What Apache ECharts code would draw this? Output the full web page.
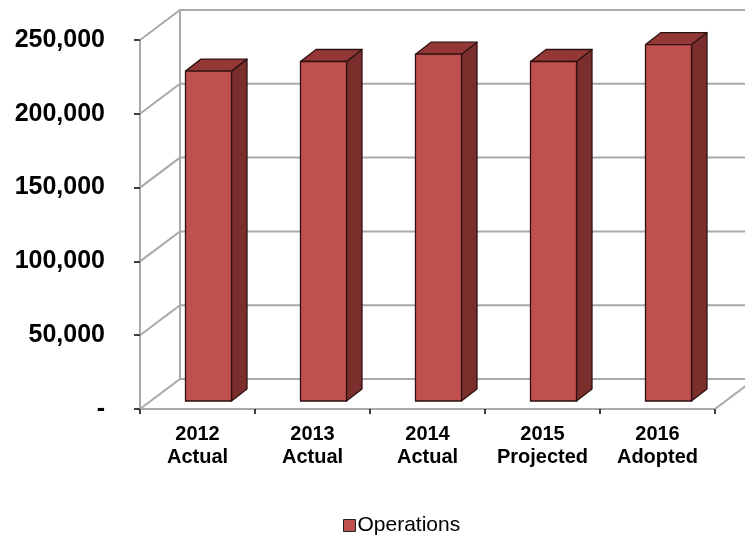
<!DOCTYPE html>
<html>
<head>
<meta charset="utf-8">
<script src="https://cdn.jsdelivr.net/npm/echarts@6/dist/echarts.min.js"></script>
<style>
  html, body { margin: 0; padding: 0; background: #fff; }
  #chart { width: 745px; height: 542px; }
</style>
</head>
<body>
<div id="chart"></div>
<script>
// Operations budget by fiscal year
const categories = ['2012\nActual', '2013\nActual', '2014\nActual', '2015\nProjected', '2016\nAdopted'];
const operations = [223500, 230000, 235000, 230000, 241500];
const yTicks = [0, 50000, 100000, 150000, 200000, 250000];
const yTickLabels = ['-', '50,000', '100,000', '150,000', '200,000', '250,000'];
const seriesName = 'Operations';

// Oblique depth of the box (back wall offset) and of the bars within it
const WALL_DX = 40, WALL_DY = -30;
const BAR_FX = 11, BAR_FY = -8;      // front face of bars, relative to front plane
const BAR_SX = 15.5, BAR_SY = -12;   // bar depth
const BAR_FRACTION = 0.4;

const FONT = '"Liberation Sans", Arial, sans-serif';
const GRID_COLOR = '#a9a9a9';

const chart = echarts.init(document.getElementById('chart'), null, { renderer: 'canvas' });

function renderWalls(params, api) {
  const cs = params.coordSys;
  const x0 = cs.x, x1 = cs.x + cs.width;
  const v = api.value(1);
  const y = api.coord([0, v])[1];
  const style = { stroke: GRID_COLOR, lineWidth: 2, fill: null };
  const children = [{
    type: 'polyline',
    shape: { points: [[x0, y], [x0 + WALL_DX, y + WALL_DY], [x1 + WALL_DX, y + WALL_DY]] },
    style: style
  }];
  if (v === yTicks[0]) {
    const yTop = api.coord([0, yTicks[yTicks.length - 1]])[1];
    children.push({
      type: 'line',
      shape: { x1: x1, y1: y, x2: x1 + WALL_DX, y2: y + WALL_DY },
      style: style
    });
    children.push({
      type: 'line',
      shape: { x1: x0 + WALL_DX, y1: y + WALL_DY, x2: x0 + WALL_DX, y2: yTop + WALL_DY },
      style: style
    });
  }
  return { type: 'group', children: children };
}

function renderBar(params, api) {
  const idx = api.value(0);
  const val = api.value(1);
  const base = api.coord([idx, 0]);
  const top = api.coord([idx, val]);
  const bw = api.size([1, 0])[0] * BAR_FRACTION;
  const xl = base[0] - bw / 2 + BAR_FX;
  const xr = xl + bw;
  const yt = top[1] + BAR_FY;
  const yb = base[1] + BAR_FY;
  const edge = '#2e1211';
  return {
    type: 'group',
    children: [
      {
        type: 'polygon',
        shape: { points: [[xr, yt], [xr + BAR_SX, yt + BAR_SY], [xr + BAR_SX, yb + BAR_SY], [xr, yb]] },
        style: { fill: '#7b2f2d', stroke: edge, lineWidth: 1.3, lineJoin: 'round' }
      },
      {
        type: 'polygon',
        shape: { points: [[xl, yt], [xl + BAR_SX, yt + BAR_SY], [xr + BAR_SX, yt + BAR_SY], [xr, yt]] },
        style: { fill: '#933836', stroke: edge, lineWidth: 1.3, lineJoin: 'round' }
      },
      {
        type: 'rect',
        shape: { x: xl, y: yt, width: bw, height: yb - yt },
        style: { fill: '#c0504d', stroke: edge, lineWidth: 1.3 }
      }
    ]
  };
}

const option = {
  backgroundColor: '#ffffff',
  animation: false,
  grid: { left: 140, right: 30, top: 40, bottom: 133, containLabel: false },
  legend: {
    data: [seriesName],
    left: 338,
    top: 510,
    itemWidth: 12,
    itemHeight: 12,
    icon: 'rect',
    itemStyle: { color: '#c0504d', borderColor: '#222', borderWidth: 1 },
    textStyle: { fontFamily: FONT, fontSize: 21, color: '#000', padding: [0, 0, 0, -3] }
  },
  xAxis: {
    type: 'category',
    data: categories,
    boundaryGap: true,
    axisLine: { show: true, lineStyle: { color: GRID_COLOR, width: 2 } },
    axisTick: { show: true, length: 5, lineStyle: { color: '#000', width: 1.5 } },
    axisLabel: {
      fontFamily: FONT, fontSize: 20, fontWeight: 'bold', color: '#000',
      lineHeight: 23, margin: 14, interval: 0
    },
    splitLine: { show: false }
  },
  yAxis: {
    type: 'value',
    min: yTicks[0],
    max: yTicks[yTicks.length - 1],
    interval: yTicks[1] - yTicks[0],
    axisLine: { show: true, lineStyle: { color: GRID_COLOR, width: 2 } },
    axisTick: { show: true, length: 6, lineStyle: { color: '#000', width: 1.5 } },
    splitLine: { show: false },
    axisLabel: {
      fontFamily: FONT, fontSize: 25, fontWeight: 'bold', color: '#000', margin: 35,
      formatter: function (value) {
        const i = yTicks.indexOf(value);
        return i >= 0 ? yTickLabels[i] : '';
      }
    }
  },
  series: [
    {
      type: 'custom',
      name: 'walls',
      renderItem: renderWalls,
      data: yTicks.map(function (v) { return [0, v]; }),
      encode: { x: 0, y: 1 },
      z: 1,
      silent: true,
      clip: false
    },
    {
      type: 'custom',
      name: seriesName,
      renderItem: renderBar,
      itemStyle: { color: '#c0504d' },
      data: operations.map(function (v, i) { return [i, v]; }),
      encode: { x: 0, y: 1 },
      z: 3,
      clip: false
    }
  ]
};

chart.setOption(option);
</script>
</body>
</html>
